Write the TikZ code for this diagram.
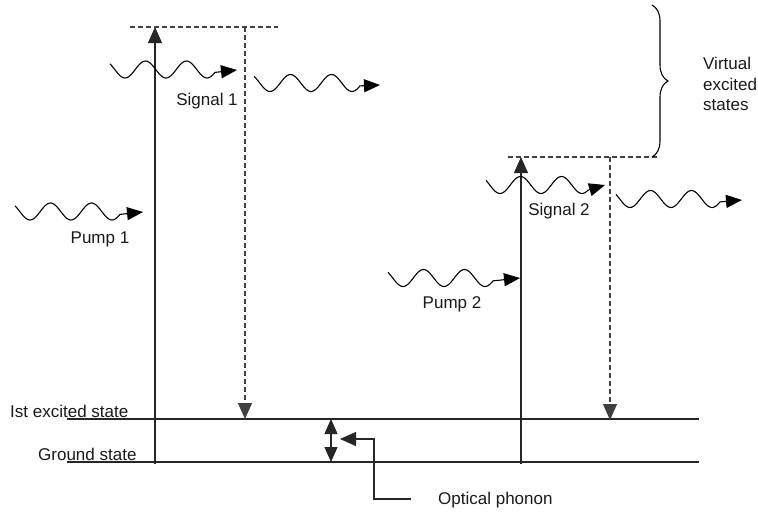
\documentclass[tikz,border=0pt]{standalone}
\usepackage{fontspec}
\setmainfont{Liberation Sans}
\usetikzlibrary{arrows.meta,decorations.pathreplacing}
\newcommand\wavepath[6]{% start x, first trough x, centre y, end x, tip x, tip y
  \draw[wavy] plot[domain=#1:#4, samples=80, smooth] (\x,{#3+8.5*cos((\x-#2)*8.7805)}) -- (#5,#6);}
\begin{document}
\begin{tikzpicture}[x=1pt,y=-1pt,
  line/.style={line width=1.1pt, black!85},
  dashline/.style={line width=1.1pt, black!75, dash pattern=on 5pt off 3pt},
  tip/.style={-{Triangle[length=16pt,width=14pt]}},
  wavy/.style={line width=1.1pt, black, -{Triangle[length=16pt,width=13pt]}},
  lbl/.style={font=\fontsize{17}{20}\selectfont, inner sep=0pt, text=black!90}]
\useasboundingbox (0,0) rectangle (758,512);

% energy levels
\coordinate (e0) at (67,419); \coordinate (e1) at (699,419);
\coordinate (g0) at (67,462); \coordinate (g1) at (699,462);
\draw[line] (e0) -- (e1);
\draw[line] (g0) -- (g1);
\node[lbl, anchor=base west] (lex) at (10,417) {Ist excited state};
\node[lbl, anchor=base west] (lgs) at (38,460) {Ground state};

% process 1
\coordinate (p1b) at (155,464); \coordinate (p1t) at (155,27);
\draw[line,tip] (p1b) -- (p1t);
\coordinate (v1l) at (130,27); \coordinate (v1r) at (278,27);
\draw[dashline] (v1l) -- (v1r);
\coordinate (s1t) at (245,27); \coordinate (s1b) at (245,419);
\draw[dashline,tip] (s1t) -- (s1b);
\wavepath{15}{30}{211.5}{120}{143}{212}
\wavepath{110}{125}{69.5}{215}{237}{70}
\wavepath{254}{270}{83}{360}{380}{85}
\node[lbl, anchor=base] (lp1) at (100,243) {Pump 1};
\node[lbl, anchor=base] (ls1) at (207,105) {Signal 1};

% process 2
\coordinate (p2b) at (521,464); \coordinate (p2t) at (521,157);
\draw[line,tip] (p2b) -- (p2t);
\coordinate (v2l) at (508,157); \coordinate (v2r) at (657,157);
\draw[dashline] (v2l) -- (v2r);
\coordinate (s2t) at (610,157); \coordinate (s2b) at (610,420);
\draw[dashline,tip] (s2t) -- (s2b);
\wavepath{486}{500}{185}{588}{605}{185}
\wavepath{616}{630}{199}{720}{742}{200}
\wavepath{388}{403}{278}{493}{520}{278}
\node[lbl, anchor=base] (lp2) at (452,308) {Pump 2};
\node[lbl, anchor=base] (ls2) at (559,215) {Signal 2};

% brace
\coordinate (bt) at (652,5); \coordinate (bb) at (652,157);
\draw[line width=1.1pt, decorate, decoration={brace, amplitude=16pt}] (bt) -- (bb);
\node[lbl, anchor=west, align=left, font=\fontsize{17}{20.5}\selectfont] (virt) at (703,84) {Virtual\\excited\\states};

% optical phonon
\coordinate (ph0) at (331,419); \coordinate (ph1) at (331,462);
\draw[line, {Triangle[length=15pt,width=13pt]}-{Triangle[length=15pt,width=13pt]}] (ph0) -- (ph1);
\coordinate (pha) at (340,439);
\coordinate (phc) at (374,499);
\node[lbl, anchor=base west] (lph) at (438,504) {Optical phonon};
\coordinate (phe) at (411,499);
\draw[line, tip] (phe) -- (phc) |- (pha);
\end{tikzpicture}
\end{document}
